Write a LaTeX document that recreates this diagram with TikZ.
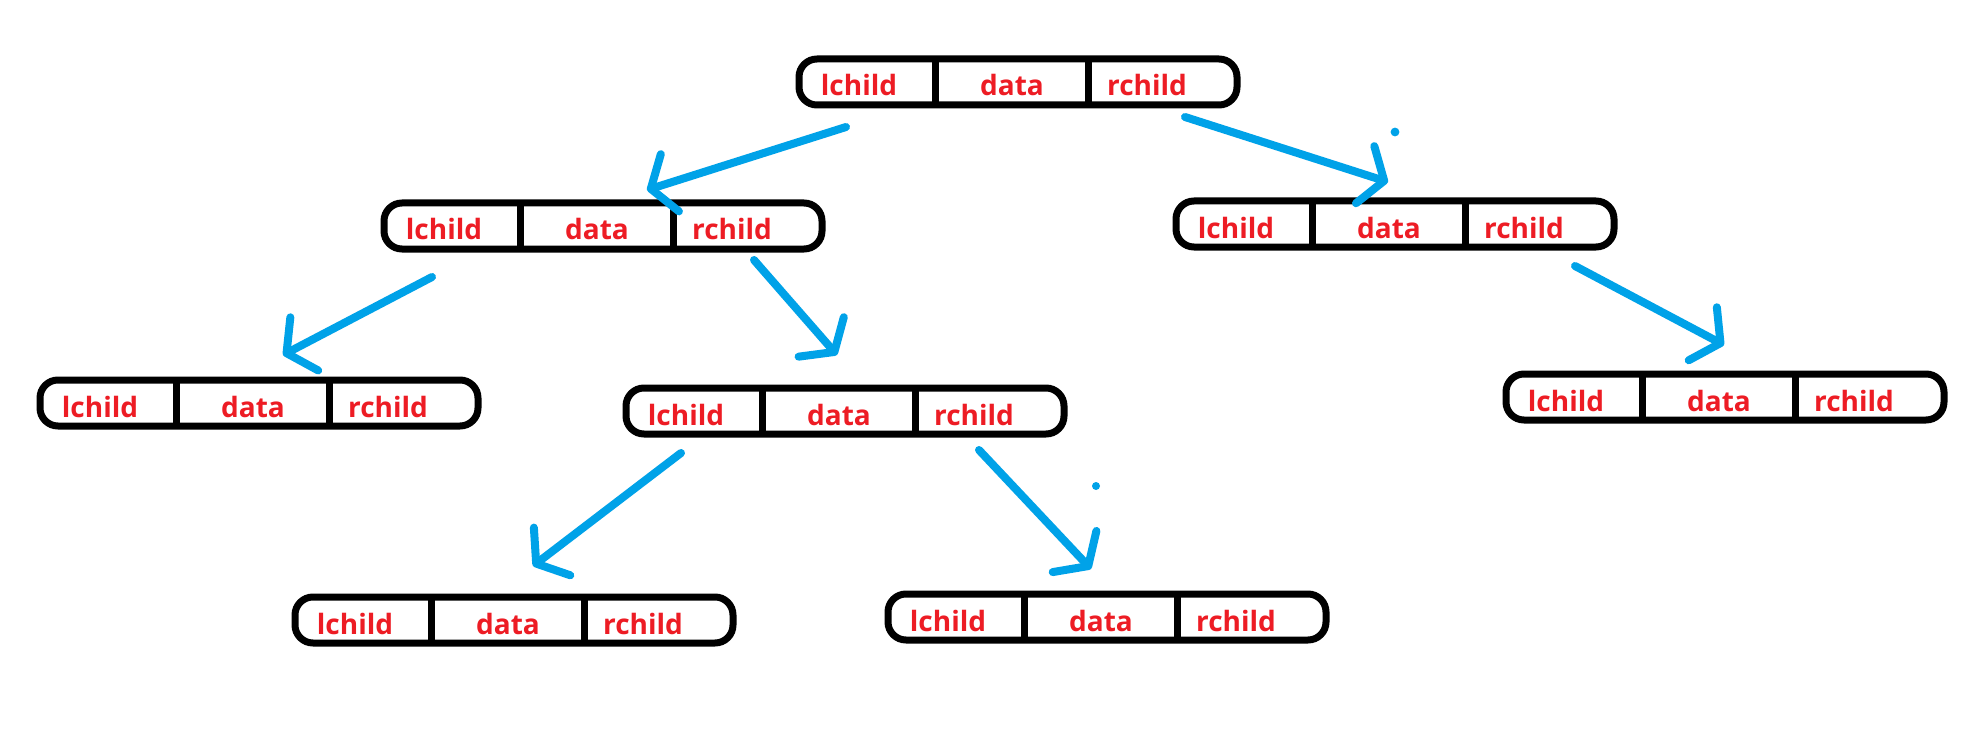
\documentclass[tikz,border=0pt]{standalone}
\usepackage{fontspec}
\setmainfont{Open Sans}
\usetikzlibrary{arrows.meta}
\definecolor{txtred}{RGB}{237,28,36}
\definecolor{arrblue}{RGB}{0,162,232}
\tikzset{
  nodebox/.style={draw=black, line width=3.5pt, rounded corners=9pt, minimum width=219pt, minimum height=23pt, inner sep=0pt},
  divider/.style={draw=black, line width=3.5pt},
  celltext/.style={text=txtred, font=\fontsize{14}{16}\selectfont\bfseries, anchor=base, inner sep=0pt},
  arr/.style={draw=arrblue, line width=4pt, line cap=round, line join=round, -{Straight Barb[length=10pt,width=30pt,round]}},
  speck/.style={fill=arrblue, draw=none}
}
% #1 name, #2 left x (px), #3 top y (px)
\newcommand\tnode[3]{%
  \node[nodebox] (#1) at (#2+222,#3+27) {};
  \draw[divider] (#2+139,#3+4) -- (#2+139,#3+50);
  \draw[divider] (#2+292,#3+4) -- (#2+292,#3+50);
  \node[celltext] (#1-l) at (#2+63,#3+41) {lchild};
  \node[celltext] (#1-d) at (#2+216,#3+41) {data};
  \node[celltext] (#1-r) at (#2+351,#3+41) {rchild};
}
\begin{document}
\begin{tikzpicture}[x=0.5pt,y=-0.5pt]
  \fill[white] (0,0) rectangle (1988,749);
  \useasboundingbox (0,0) rectangle (1988,749);

  \tnode{top}{796}{55}
  \tnode{lone}{381}{199}
  \tnode{rone}{1173}{197}
  \tnode{ll}{37}{376}
  \tnode{lr}{623}{384}
  \tnode{rtwo}{1503}{370}
  \tnode{lrl}{292}{593}
  \tnode{lrr}{885}{590}

  % connector end points
  \coordinate (a1) at (846,127);  \coordinate (a2) at (647,190);
  \coordinate (b1) at (1185,117); \coordinate (b2) at (1388,182);
  \coordinate (c1) at (432,277);  \coordinate (c2) at (283,355);
  \coordinate (d1) at (754,260);  \coordinate (d2) at (837,355);
  \coordinate (e1) at (1575,266); \coordinate (e2) at (1724,345);
  \coordinate (f1) at (681,453);  \coordinate (f2) at (533,566);
  \coordinate (g1) at (979,450);  \coordinate (g2) at (1091,569);

  \draw[arr] (a1) -- (a2);
  \draw[arr] (b1) -- (b2);
  \draw[arr] (c1) -- (c2);
  \draw[arr] (d1) -- (d2);
  \draw[arr] (e1) -- (e2);
  \draw[arr] (f1) -- (f2);
  \draw[arr] (g1) -- (g2);

  \fill[speck] (1395,132) circle (2.2pt);
  \fill[speck] (1096,486) circle (2pt);
\end{tikzpicture}
\end{document}
